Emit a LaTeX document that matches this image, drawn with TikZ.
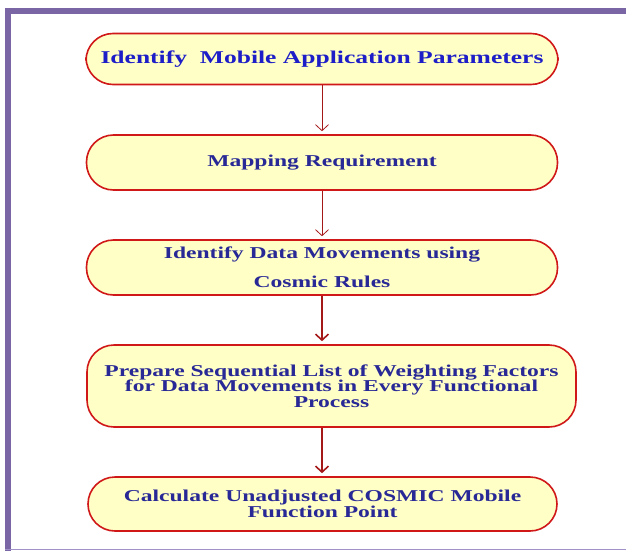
\documentclass[tikz,border=0pt]{standalone}
\usepackage{fontspec}
\newfontfamily\stepfont{Liberation Serif}[FakeStretch=1.42]
\usetikzlibrary{arrows.meta,positioning}

\definecolor{framepurple}{RGB}{122,101,165}
\definecolor{framelight}{RGB}{160,145,200}
\definecolor{boxred}{RGB}{208,24,24}
\definecolor{boxfill}{RGB}{255,255,198}
\definecolor{textblue}{RGB}{40,40,150}
\definecolor{titleblue}{RGB}{30,30,200}
\definecolor{arrowred}{RGB}{165,24,24}

\begin{document}
\begin{tikzpicture}[x=1pt,y=-1pt,
    stepbox/.style={draw=boxred,line width=1.6pt,fill=boxfill,rounded corners=27pt,
        text=textblue,font=\stepfont\bfseries\fontsize{16.6}{15.5}\selectfont,
        align=center,inner sep=0pt},
    flow/.style={draw=arrowred,-{Straight Barb[length=6pt,width=13pt]}}]
        \useasboundingbox (0,0) rectangle (626,551);

        %%%% Frame ======================================
        \fill[framepurple] (5,8) rectangle (626,14);
        \fill[framepurple] (5,8) rectangle (11,551);
        \draw[framelight,line width=1pt] (5,549.5) -- (626,549.5);

        %%%% Steps ======================================
        \node[stepbox,minimum width=472pt,minimum height=51pt,text=titleblue,
            font=\stepfont\bfseries\fontsize{18}{16}\selectfont] (params) at (322,59)
            {Identify\ \ Mobile Application Parameters};
        \node[stepbox,minimum width=471pt,minimum height=55pt] (mapping) at (322,162.5)
            {Mapping Requirement};
        \node[stepbox,minimum width=471pt,minimum height=55pt] (moves) at (322,267.5)
            {Identify Data Movements using\\[14pt]Cosmic Rules};
        \node[stepbox,minimum width=489pt,minimum height=82pt] (weights) at (331.5,386)
            {Prepare Sequential List of Weighting Factors\\for Data Movements in Every Functional\\Process};
        \node[stepbox,minimum width=469pt,minimum height=54pt] (cfp) at (322.5,504)
            {Calculate Unadjusted COSMIC Mobile\\Function Point};

        %%%% Arrows =====================================
        \draw[flow,line width=0.8pt] (params.south -| 322,0) -- ([yshift=3pt]mapping.north -| 322,0);
        \draw[flow,line width=0.8pt] (mapping.south -| 322,0) -- ([yshift=3pt]moves.north -| 322,0);
        \draw[flow,line width=1.6pt] (moves.south -| 322,0) -- ([yshift=3pt]weights.north -| 322,0);
        \draw[flow,line width=1.6pt] (weights.south -| 322,0) -- ([yshift=3pt]cfp.north -| 322,0);
    \end{tikzpicture}
\end{document}
